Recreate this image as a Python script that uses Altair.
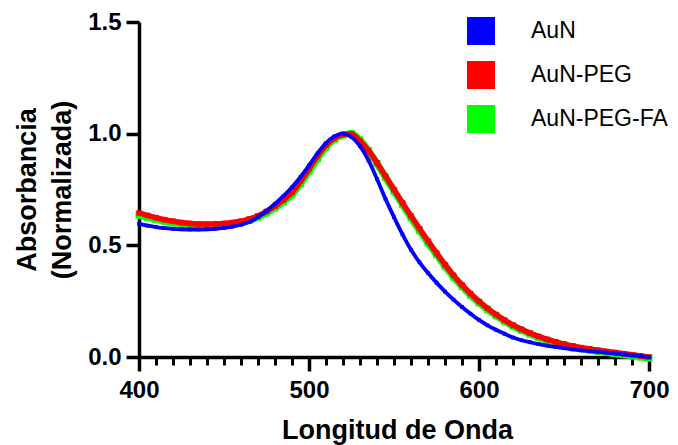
import altair as alt
import pandas as pd

wavelength = list(range(400, 701, 5))

aun = [0.596, 0.588, 0.582, 0.577, 0.574, 0.572, 0.571, 0.571, 0.572, 0.574,
       0.578, 0.584, 0.592, 0.605, 0.626, 0.654, 0.686, 0.721, 0.760, 0.806,
       0.858, 0.912, 0.958, 0.988, 1.000, 0.985, 0.944, 0.880, 0.797, 0.708,
       0.626, 0.549, 0.480, 0.424, 0.376, 0.333, 0.293, 0.257, 0.224, 0.194,
       0.166, 0.142, 0.122, 0.104, 0.087, 0.075, 0.066, 0.058, 0.051, 0.045,
       0.040, 0.034, 0.030, 0.026, 0.023, 0.020, 0.016, 0.012, 0.008, 0.004,
       0.000]

aun_peg = [0.645, 0.634, 0.624, 0.615, 0.608, 0.602, 0.598, 0.596, 0.595, 0.596,
           0.598, 0.602, 0.608, 0.618, 0.632, 0.652, 0.676, 0.704, 0.737, 0.787,
           0.843, 0.900, 0.949, 0.981, 0.996, 0.999, 0.966, 0.924, 0.870, 0.810,
           0.750, 0.690, 0.632, 0.575, 0.520, 0.466, 0.414, 0.366, 0.323, 0.284,
           0.249, 0.218, 0.190, 0.165, 0.143, 0.124, 0.107, 0.092, 0.079, 0.068,
           0.058, 0.049, 0.042, 0.036, 0.030, 0.025, 0.020, 0.015, 0.010, 0.005,
           0.000]

aun_peg_fa = [0.635, 0.625, 0.616, 0.608, 0.601, 0.596, 0.592, 0.590, 0.589, 0.590,
              0.592, 0.596, 0.602, 0.612, 0.626, 0.645, 0.668, 0.695, 0.727, 0.776,
              0.831, 0.888, 0.939, 0.974, 0.994, 1.000, 0.972, 0.924, 0.866, 0.804,
              0.742, 0.682, 0.623, 0.566, 0.511, 0.458, 0.406, 0.358, 0.315, 0.277,
              0.242, 0.212, 0.185, 0.160, 0.138, 0.119, 0.103, 0.088, 0.075, 0.064,
              0.054, 0.046, 0.038, 0.032, 0.026, 0.020, 0.015, 0.010, 0.005, 0.000,
              -0.005]

series_names = ["AuN", "AuN-PEG", "AuN-PEG-FA"]
series_colors = ["#0000FF", "#FF0000", "#00FF00"]
x_ticks = [400, 500, 600, 700]
x_minor_ticks = list(range(400, 701, 10))
y_ticks = [0.0, 0.5, 1.0, 1.5]

rows = []
for name, vals in zip(series_names, [aun, aun_peg, aun_peg_fa]):
    for w, v in zip(wavelength, vals):
        rows.append({"wl": w, "abs": v, "serie": name})
df = pd.DataFrame(rows)

FONT = "Liberation Sans"
PLOT_W = 510
PLOT_H = 335
x_scale = alt.Scale(domain=[400, 700], nice=False, zero=False)
y_scale = alt.Scale(domain=[0, 1.5], nice=False)
color_scale = alt.Scale(domain=series_names, range=series_colors)
color_of = dict(zip(series_names, series_colors))

main_x_axis = alt.Axis(values=x_ticks, orient="bottom", title="Longitud de Onda",
                       tickSize=14, tickWidth=3.5, domainWidth=3.5, labelPadding=7,
                       labelFlush=False, titleX=258, titleY=81, titleAlign="center",
                       titleBaseline="alphabetic", grid=False)
minor_x_axis = alt.Axis(values=x_minor_ticks, orient="bottom", labels=False,
                        domain=False, title="", tickSize=8, tickWidth=3, grid=False)
y_axis = alt.Axis(values=y_ticks, format=".1f", tickSize=13, tickWidth=3.5,
                  domainWidth=3.5, labelPadding=5, grid=False,
                  title=["Absorbancia", "(Normalizada)"], titleAngle=270,
                  titleAlign="center", titleBaseline="alphabetic",
                  titleX=-104, titleY=PLOT_H / 2, titleLineHeight=35)

legend_def = alt.Legend(title=None, orient="none", legendX=328, legendY=-5,
                        symbolType="square", symbolSize=784, symbolOpacity=1,
                        symbolStrokeWidth=0, labelOffset=36, rowPadding=16,
                        padding=0, labelFont=FONT, labelFontSize=23,
                        labelFontWeight="normal", labelColor="black")

base = alt.Chart(df)

styles = {
    "AuN-PEG-FA": dict(width=7, size=49),
    "AuN-PEG": dict(width=5.5, size=30),
    "AuN": dict(width=3.8, size=14),
}

layers = []
axis_plan = {"AuN-PEG-FA": main_x_axis, "AuN-PEG": minor_x_axis}
for name in ["AuN-PEG-FA", "AuN-PEG", "AuN"]:
    st = styles[name]
    xa = axis_plan.get(name)
    x_enc = alt.X("wl:Q", scale=x_scale, axis=xa) if xa is not None else alt.X("wl:Q", scale=x_scale, axis=None)
    line = base.transform_filter(alt.datum.serie == name).mark_line(
        strokeWidth=st["width"], interpolate="monotone", color=color_of[name]
    ).encode(
        x=x_enc,
        y=alt.Y("abs:Q", scale=y_scale, axis=y_axis),
    )
    pts = base.transform_filter(alt.datum.serie == name).mark_square(
        size=st["size"], filled=True, opacity=1
    ).encode(
        x=alt.X("wl:Q", scale=x_scale, axis=None),
        y=alt.Y("abs:Q", scale=y_scale, axis=y_axis),
        color=alt.Color("serie:N", scale=color_scale, legend=legend_def),
    )
    layers += [line, pts]

chart = alt.layer(*layers).resolve_axis(x="independent").properties(
    width=PLOT_W, height=PLOT_H,
    autosize=alt.AutoSizeParams(type="none"),
    padding={"left": 131, "top": 14, "right": 21, "bottom": 88},
).configure_view(stroke=None).configure_axis(
    labelFont=FONT, labelFontSize=24, labelFontWeight="bold", labelColor="black",
    titleFont=FONT, titleFontSize=27, titleFontWeight="bold", titleColor="black",
    domainColor="black", tickColor="black",
)

chart.save("out.html", embed_options={"renderer": "svg", "actions": False})
